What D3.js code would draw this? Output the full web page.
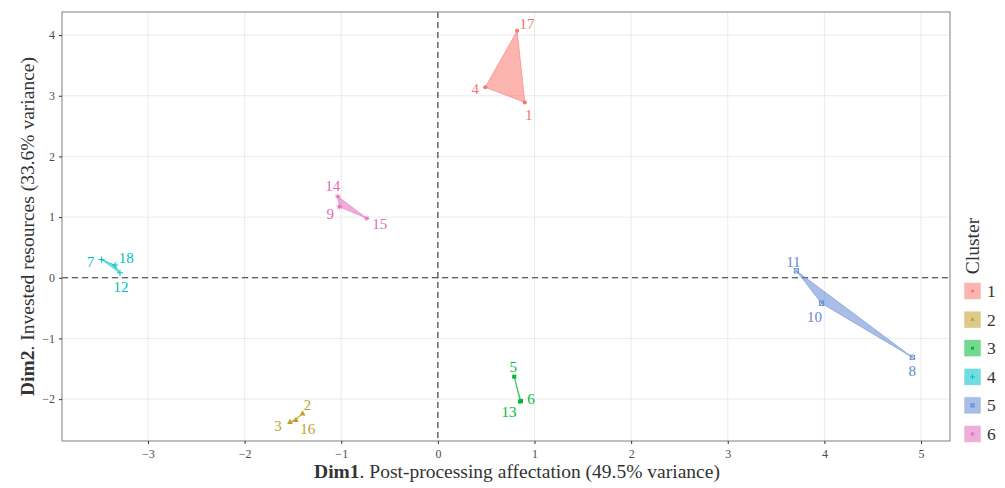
<!DOCTYPE html>
<html>
<head>
<meta charset="utf-8">
<script src="https://cdn.jsdelivr.net/npm/d3@7"></script>
<style>
  html, body { margin: 0; padding: 0; background: #fff; }
  svg { display: block; }
  text { font-family: "Liberation Serif", "DejaVu Serif", serif; }
</style>
</head>
<body>
<svg id="chart" width="1005" height="488"></svg>
<script>
// Observations: id, cluster, Dim1, Dim2
const ids      = ["1", "2", "3", "4", "5", "6", "7", "8", "9", "10", "11", "12", "13", "14", "15", "16", "17", "18"];
const clusters = [1, 2, 2, 1, 3, 3, 4, 5, 6, 5, 5, 4, 3, 6, 6, 2, 1, 4];
const dim1     = [0.90, -1.40, -1.53, 0.49, 0.79, 0.86, -3.48, 4.91, -1.02, 3.97, 3.71, -3.29, 0.85, -1.035, -0.735, -1.47, 0.82, -3.34];
const dim2     = [2.89, -2.24, -2.38, 3.14, -1.63, -2.03, 0.30, -1.31, 1.17, -0.42, 0.115, 0.08, -2.04, 1.34, 0.98, -2.35, 4.07, 0.21];

const clusterLevels = [1, 2, 3, 4, 5, 6];
const clusterColors = ["#F8766D", "#C09F2A", "#00BA38", "#00BFC4", "#6189D4", "#E06CBA"];

const xTicks = [-3, -2, -1, 0, 1, 2, 3, 4, 5];
const yTicks = [-2, -1, 0, 1, 2, 3, 4];

// Label nudges (px) so the point labels do not overlap
const labelNudge = {
  "1": [4, 13], "2": [5, -9], "3": [-12, 4], "4": [-10, 2], "5": [-1, -10], "6": [10, -2],
  "7": [-11, 2], "8": [0, 14], "9": [-9, 7], "10": [-7, 14], "11": [-3, -9], "12": [1, 14],
  "13": [-11, 10], "14": [-5, -10], "15": [13, 6], "16": [12, 9], "17": [10, -7], "18": [11, -7]
};

const points = ids.map((id, i) => ({ id, cluster: clusters[i], x: dim1[i], y: dim2[i] }));

const svg = d3.select("#chart");
const panel = { left: 62, right: 950, top: 12, bottom: 441 };

const x = d3.scaleLinear().domain([-3.89, 5.30]).range([panel.left, panel.right]);
const y = d3.scaleLinear().domain([-2.69, 4.38]).range([panel.bottom, panel.top]);
const color = d3.scaleOrdinal().domain(clusterLevels).range(clusterColors);

// grid
const grid = svg.append("g");
grid.selectAll("line.vx").data(xTicks).join("line")
  .attr("x1", d => x(d)).attr("x2", d => x(d))
  .attr("y1", panel.top).attr("y2", panel.bottom)
  .attr("stroke", "#ebebeb").attr("stroke-width", 1);
grid.selectAll("line.hy").data(yTicks).join("line")
  .attr("y1", d => y(d)).attr("y2", d => y(d))
  .attr("x1", panel.left).attr("x2", panel.right)
  .attr("stroke", "#ebebeb").attr("stroke-width", 1);

// reference lines
svg.append("line")
  .attr("x1", x(0)).attr("x2", x(0)).attr("y1", panel.top).attr("y2", panel.bottom)
  .attr("stroke", "#333").attr("stroke-width", 1.1).attr("stroke-dasharray", "6,4");
svg.append("line")
  .attr("y1", y(0)).attr("y2", y(0)).attr("x1", panel.left).attr("x2", panel.right)
  .attr("stroke", "#333").attr("stroke-width", 1.1).attr("stroke-dasharray", "6,4");

// cluster hulls
const hullG = svg.append("g");
clusterLevels.forEach(c => {
  const pts = points.filter(p => p.cluster === c).map(p => [x(p.x), y(p.y)]);
  const hull = d3.polygonHull(pts) || pts;
  hullG.append("path")
    .attr("d", "M" + hull.map(p => p.join(",")).join("L") + "Z")
    .attr("fill", color(c)).attr("fill-opacity", 0.55)
    .attr("stroke", color(c)).attr("stroke-opacity", 0.55).attr("stroke-width", 1)
    .attr("stroke-linejoin", "round");
});

// point glyphs per cluster
function glyph(g, c, s) {
  const col = color(c);
  if (c === 1) {
    g.append("circle").attr("r", s * 0.85).attr("fill", col);
  } else if (c === 2) {
    g.append("path").attr("d", d3.symbol(d3.symbolTriangle, s * s * 2.6)()).attr("fill", col);
  } else if (c === 3) {
    g.append("rect").attr("x", -s * 0.85).attr("y", -s * 0.85).attr("width", s * 1.7).attr("height", s * 1.7).attr("fill", col);
  } else if (c === 4) {
    const r = s * 1.3;
    g.append("path").attr("d", `M${-r},0L${r},0M0,${-r}L0,${r}`).attr("stroke", col).attr("stroke-width", 1).attr("fill", "none");
  } else if (c === 5) {
    const r = s * 0.9;
    g.append("rect").attr("x", -r).attr("y", -r).attr("width", 2 * r).attr("height", 2 * r)
      .attr("fill", "none").attr("stroke", col).attr("stroke-width", 0.9);
    g.append("path").attr("d", `M${-r},${-r}L${r},${r}M${-r},${r}L${r},${-r}`).attr("stroke", col).attr("stroke-width", 0.9);
  } else {
    const r = s * 1.1, d = r * 0.707;
    g.append("path").attr("d", `M${-r},0L${r},0M0,${-r}L0,${r}M${-d},${-d}L${d},${d}M${-d},${d}L${d},${-d}`)
      .attr("stroke", col).attr("stroke-width", 0.9).attr("fill", "none");
  }
}

const ptG = svg.append("g");
points.forEach(p => {
  const g = ptG.append("g").attr("transform", `translate(${x(p.x)},${y(p.y)})`);
  glyph(g, p.cluster, 2.4);
});

// point labels
svg.append("g").selectAll("text").data(points).join("text")
  .attr("x", d => x(d.x) + labelNudge[d.id][0])
  .attr("y", d => y(d.y) + labelNudge[d.id][1])
  .attr("text-anchor", "middle").attr("dominant-baseline", "central")
  .attr("font-size", 15)
  .attr("fill", d => color(d.cluster))
  .text(d => d.id);

// panel border
svg.append("rect")
  .attr("x", panel.left).attr("y", panel.top)
  .attr("width", panel.right - panel.left).attr("height", panel.bottom - panel.top)
  .attr("fill", "none").attr("stroke", "#7f7f7f").attr("stroke-width", 1);

// axes
const xAxis = svg.append("g").attr("transform", `translate(0,${panel.bottom})`)
  .call(d3.axisBottom(x).tickValues(xTicks).tickSize(3).tickPadding(5).tickFormat(d => d < 0 ? "\u2212" + Math.abs(d) : d));
const yAxis = svg.append("g").attr("transform", `translate(${panel.left},0)`)
  .call(d3.axisLeft(y).tickValues(yTicks).tickSize(3).tickPadding(4).tickFormat(d => d < 0 ? "\u2212" + Math.abs(d) : d));
[xAxis, yAxis].forEach(a => {
  a.select(".domain").remove();
  a.selectAll(".tick line").attr("stroke", "#333");
  a.selectAll(".tick text").attr("fill", "#4d4d4d").attr("font-size", 12)
    .style("font-family", '"Liberation Serif", serif');
});

// axis titles
const xt = svg.append("text").attr("x", 517).attr("y", 478).attr("text-anchor", "middle")
  .attr("font-size", 19.5).attr("fill", "#333");
xt.append("tspan").attr("font-weight", "bold").text("Dim1");
xt.append("tspan").text(". Post-processing affectation (49.5% variance)");

const yt = svg.append("text").attr("transform", `translate(34,${(panel.top + panel.bottom) / 2}) rotate(-90)`)
  .attr("text-anchor", "middle").attr("font-size", 19.5).attr("fill", "#333");
yt.append("tspan").attr("font-weight", "bold").text("Dim2");
yt.append("tspan").text(". Invested resources (33.6% variance)");

// legend
const lg = svg.append("g");
lg.append("text").attr("transform", "translate(979,246) rotate(-90)")
  .attr("text-anchor", "middle").attr("font-size", 19.5).attr("fill", "#333").text("Cluster");
const keyY0 = 291, keyStep = 28.6;
clusterLevels.forEach((c, i) => {
  const cy = keyY0 + i * keyStep;
  lg.append("rect").attr("x", 964).attr("y", cy - 8.5).attr("width", 17).attr("height", 17)
    .attr("fill", color(c)).attr("fill-opacity", 0.55).attr("stroke", "#fff").attr("stroke-width", 0.5);
  const g = lg.append("g").attr("transform", `translate(972.5,${cy})`);
  glyph(g, c, 1.8);
  lg.append("text").attr("x", 987).attr("y", cy).attr("dominant-baseline", "central")
    .attr("font-size", 17.5).attr("fill", "#333").text(c);
});
</script>
</body>
</html>
